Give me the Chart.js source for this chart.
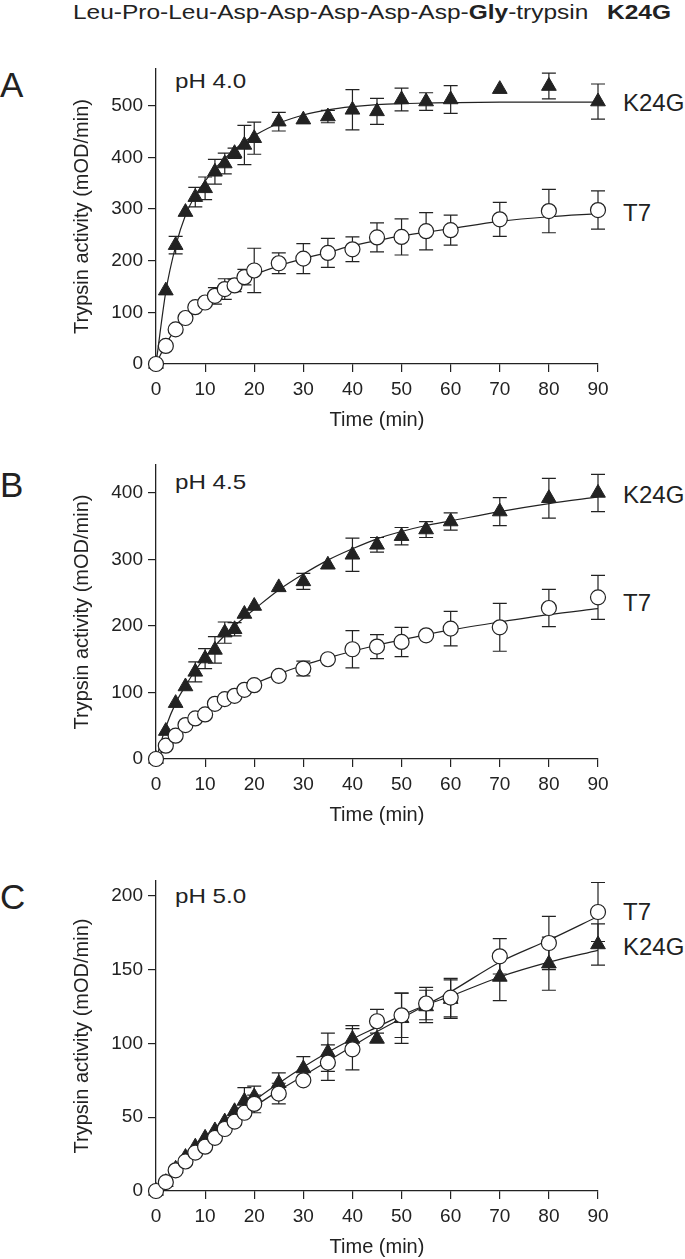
<!DOCTYPE html>
<html>
<head>
<meta charset="utf-8">
<script src="https://cdn.jsdelivr.net/npm/chart.js@4.4.1/dist/chart.umd.min.js"></script>
<style>
  body { margin: 0; background: #fff; width: 685px; height: 1259px; position: relative; overflow: hidden;
         font-family: "Liberation Sans", Arial, Helvetica, sans-serif; color: #222; }
  canvas { position: absolute; left: 0; }
  .txt { position: absolute; line-height: 1; white-space: nowrap; }
  .wide { transform: scaleX(1.165); transform-origin: left top; }
  .letter { font-size: 35px; left: 0; }
  .ph { font-size: 21px; left: 175px; transform: scaleX(1.15); transform-origin: left top; }
  .series { font-size: 24px; left: 623px; }
</style>
</head>
<body>
<div class="txt wide" style="left:73px; top:1px; font-size:21px;">Leu-Pro-Leu-Asp-Asp-Asp-Asp-Asp-<b>Gly</b>-trypsin</div>
<div class="txt wide" style="left:607px; top:1px; font-size:21px;"><b>K24G</b></div>

<div class="txt letter" style="top:67px;">A</div>
<div class="txt letter" style="top:467px;">B</div>
<div class="txt letter" style="top:879px;">C</div>

<div class="txt ph" style="top:70px;">pH 4.0</div>
<div class="txt ph" style="top:471px;">pH 4.5</div>
<div class="txt ph" style="top:885px;">pH 5.0</div>

<div class="txt series" style="top:91px;">K24G</div>
<div class="txt series" style="top:201px;">T7</div>
<div class="txt series" style="top:483px;">K24G</div>
<div class="txt series" style="top:591px;">T7</div>
<div class="txt series" style="top:900px;">T7</div>
<div class="txt series" style="top:935px;">K24G</div>

<canvas id="chartA" width="685" height="392" style="top:40px"></canvas>
<canvas id="chartB" width="685" height="387" style="top:440px"></canvas>
<canvas id="chartC" width="685" height="409" style="top:850px"></canvas>

<script>
// sampling times (min)
const times = [0, 2, 4, 6, 8, 10, 12, 14, 16, 18, 20, 25, 30, 35, 40, 45, 50, 55, 60, 70, 80, 90];
const xTicks = [0, 10, 20, 30, 40, 50, 60, 70, 80, 90];

// pH 4.0
const aK24G    = [0, 142, 230, 294, 323, 340, 372, 388, 408, 424, 437, 469, 473, 479, 492, 489, 512, 508, 512, 532, 538, 508];
const aK24GErr = [0, 0, 17, 0, 19, 22, 24, 20, 10, 38, 31, 18, 0, 12, 39, 25, 22, 17, 27, 0, 25, 34];
const aK24GFit = [0, 140, 228, 288, 326, 354, 378, 398, 415, 430, 442, 466, 482, 492, 498, 502, 504, 505, 506, 507, 507, 507];
const aT7      = [0, 35, 67, 89, 110, 119, 132, 145, 152, 168, 181, 195, 204, 215, 222, 245, 246, 257, 259, 280, 296, 298];
const aT7Err   = [0, 0, 0, 0, 0, 0, 16, 20, 12, 15, 43, 20, 29, 28, 24, 28, 35, 36, 29, 33, 42, 37];
const aT7Fit   = [0, 38, 68, 90, 108, 122, 135, 146, 156, 165, 173, 190, 204, 216, 229, 239, 248, 255, 262, 276, 285, 291];
const aYTicks  = [0, 100, 200, 300, 400, 500];

// pH 4.5
const bK24G    = [0, 42, 84, 109, 131, 151, 164, 190, 195, 218, 230, 258, 267, 292, 307, 322, 335, 345, 357, 372, 392, 400];
const bK24GErr = [0, 0, 0, 0, 15, 15, 20, 16, 10, 0, 0, 0, 12, 0, 25, 11, 13, 12, 13, 21, 30, 28];
const bK24GFit = [0, 48, 84, 110, 133, 153, 170, 186, 200, 213, 225, 254, 278, 299, 316, 331, 342, 351, 358, 372, 384, 394];
const bT7      = [0, 20, 35, 51, 61, 67, 83, 90, 95, 104, 111, 125, 136, 150, 165, 169, 176, 186, 196, 198, 227, 243];
const bT7Err   = [0, 0, 0, 0, 0, 0, 0, 0, 0, 0, 0, 0, 11, 0, 28, 18, 22, 0, 26, 36, 28, 33];
const bT7Fit   = [0, 18, 34, 48, 60, 71, 81, 90, 98, 106, 113, 128, 141, 152, 162, 171, 179, 187, 194, 206, 217, 226];
const bYTicks  = [0, 100, 200, 300, 400];

// pH 5.0
const cK24G    = [0, 6, 15, 23, 30, 36, 41, 47, 54, 61, 64, 73, 83, 94, 103, 103, 117, 125, 130, 145, 154, 167];
const cK24GErr = [0, 0, 0, 0, 0, 0, 0, 0, 0, 9, 7, 7, 8, 13, 9, 0, 17, 11, 13, 16, 18, 14];
const cK24GFit = [0, 6, 13, 19, 25, 31, 37, 43, 49, 55, 61, 73, 84, 94, 103, 111, 119, 126, 132, 145, 155, 163];
const cT7      = [0, 6, 14, 20, 26, 30, 36, 42, 47, 53, 59, 66, 75, 87, 96, 115, 119, 127, 131, 159, 168, 189];
const cT7Err   = [0, 0, 0, 0, 0, 0, 0, 0, 0, 0, 6, 7, 0, 12, 14, 8, 15, 11, 13, 12, 18, 20];
const cT7Fit   = [0, 6, 12, 18, 24, 30, 35, 41, 46, 52, 57, 68, 78, 88, 98, 108, 117, 126, 135, 155, 170, 186];
const cYTicks  = [0, 50, 100, 150, 200];

const INK = '#222';
const FONT = '"Liberation Sans", Arial, Helvetica, sans-serif';

function toPoints(values) {
    return times.map((t, i) => ({x: t, y: values[i]}));
}

// vertical error bars with caps, drawn under the markers
const errorBars = {
    id: 'errorBars',
    beforeDatasetsDraw(chart) {
        const ctx = chart.ctx;
        const xs = chart.scales.x;
        const ys = chart.scales.y;
        ctx.save();
        ctx.strokeStyle = INK;
        ctx.lineWidth = 1.2;
        chart.data.datasets.forEach(ds => {
            if (!ds.errors) return;
            ds.data.forEach((p, i) => {
                const e = ds.errors[i];
                if (!e) return;
                const px = xs.getPixelForValue(p.x);
                const top = ys.getPixelForValue(p.y + e);
                const bot = ys.getPixelForValue(p.y - e);
                ctx.beginPath();
                ctx.moveTo(px, top); ctx.lineTo(px, bot);
                ctx.moveTo(px - 7, top); ctx.lineTo(px + 7, top);
                ctx.moveTo(px - 7, bot); ctx.lineTo(px + 7, bot);
                ctx.stroke();
            });
        });
        ctx.restore();
    }
};

function makeChart(id, k24g, k24gErr, k24gFit, t7, t7Err, t7Fit, yTicks, yMax, padTop) {
    const ctx = document.getElementById(id);
    return new Chart(ctx, {
        type: 'scatter',
        data: {
            datasets: [
                {
                    label: 'T7',
                    data: toPoints(t7),
                    errors: t7Err,
                    pointStyle: 'circle',
                    pointRadius: 7.5,
                    borderWidth: 1.2,
                    borderColor: INK,
                    backgroundColor: '#fff',
                    clip: false,
                    order: 0
                },
                {
                    label: 'K24G',
                    data: toPoints(k24g),
                    errors: k24gErr,
                    pointStyle: 'triangle',
                    pointRadius: 8.5,
                    borderWidth: 1,
                    borderColor: INK,
                    backgroundColor: INK,
                    clip: false,
                    order: 1
                },
                {
                    label: 'T7 fit',
                    data: toPoints(t7Fit),
                    showLine: true,
                    pointRadius: 0,
                    borderWidth: 1.2,
                    borderColor: INK,
                    cubicInterpolationMode: 'monotone',
                    order: 2
                },
                {
                    label: 'K24G fit',
                    data: toPoints(k24gFit),
                    showLine: true,
                    pointRadius: 0,
                    borderWidth: 1.2,
                    borderColor: INK,
                    cubicInterpolationMode: 'monotone',
                    order: 2
                }
            ]
        },
        options: {
            responsive: false,
            animation: false,
            devicePixelRatio: 1,
            layout: { padding: { top: padTop, left: 70, right: 87, bottom: 0 } },
            plugins: { legend: { display: false }, tooltip: { enabled: false } },
            scales: {
                x: {
                    type: 'linear',
                    min: 0,
                    max: 90,
                    afterBuildTicks: s => { s.ticks = xTicks.map(v => ({value: v})); },
                    afterFit: s => { s.height = 68; },
                    border: { display: true, color: INK, width: 1.3 },
                    grid: { display: true, drawOnChartArea: false, drawTicks: true, tickLength: 8, color: INK, lineWidth: 1.2 },
                    ticks: { color: INK, font: { family: FONT, size: 19 }, padding: 6, maxRotation: 0 },
                    title: { display: true, text: 'Time (min)', color: INK, font: { family: FONT, size: 20 }, padding: 0 }
                },
                y: {
                    type: 'linear',
                    min: 0,
                    max: yMax,
                    afterBuildTicks: s => { s.ticks = yTicks.map(v => ({value: v})); },
                    afterFit: s => { s.width = 86; },
                    border: { display: true, color: INK, width: 1.3 },
                    grid: { display: true, drawOnChartArea: false, drawTicks: true, tickLength: 8, color: INK, lineWidth: 1.2 },
                    ticks: { color: INK, font: { family: FONT, size: 19 }, padding: 5 },
                    title: { display: true, text: 'Trypsin activity (mOD/min)', color: INK, font: { family: FONT, size: 20 }, padding: 0 }
                }
            }
        },
        plugins: [errorBars]
    });
}

makeChart('chartA', aK24G, aK24GErr, aK24GFit, aT7, aT7Err, aT7Fit, aYTicks, 571, 29);
makeChart('chartB', bK24G, bK24GErr, bK24GFit, bT7, bT7Err, bT7Fit, bYTicks, 442, 25);
makeChart('chartC', cK24G, cK24GErr, cK24GFit, cT7, cT7Err, cT7Fit, cYTicks, 210, 31);
</script>
</body>
</html>
